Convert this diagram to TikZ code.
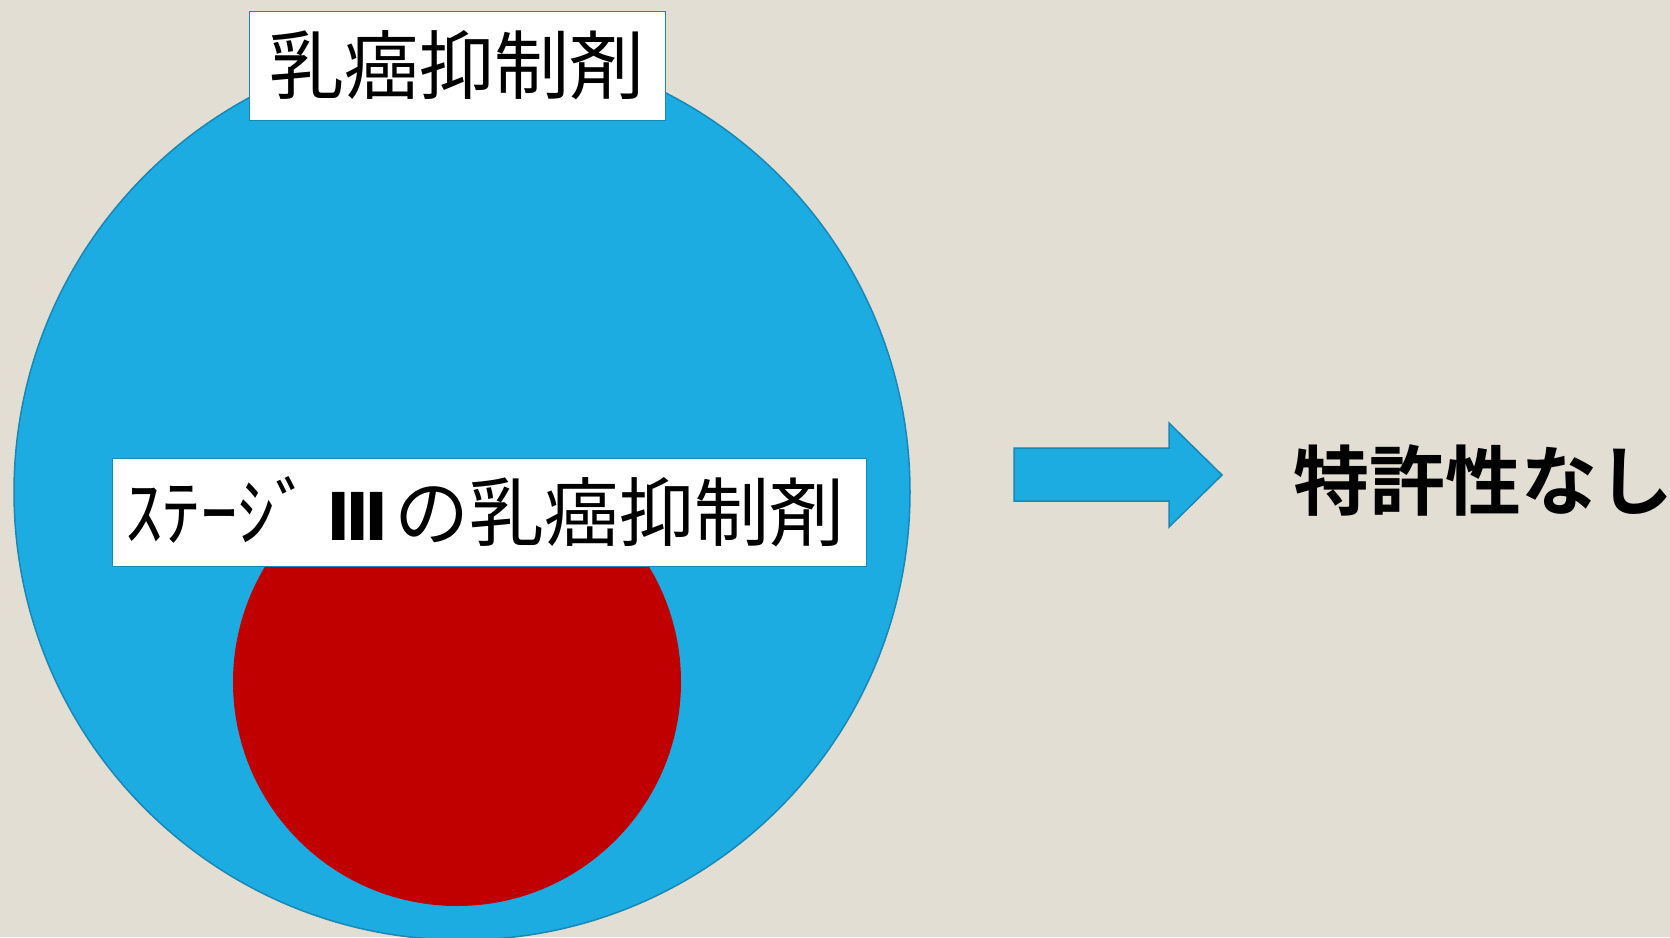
\documentclass[tikz,border=0pt]{standalone}
\usepackage{fontspec}
\newfontfamily\jp{Noto Sans CJK JP}
\newfontfamily\jpbold{Noto Sans CJK JP Bold}
\newfontfamily\numfont{DejaVu Sans}
\definecolor{bg}{RGB}{227,222,211}
\definecolor{skyblue}{RGB}{29,172,226}
\definecolor{edgeblue}{RGB}{26,135,180}
\definecolor{darkred}{RGB}{192,0,0}
\tikzset{
  labelbox/.style={draw=edgeblue, line width=1pt, fill=white, inner sep=0pt, font=\jp\fontsize{75}{80}\selectfont},
  bigdisc/.style={circle, draw=edgeblue, line width=1.5pt, fill=skyblue, inner sep=0pt},
  reddisc/.style={circle, fill=darkred, inner sep=0pt},
  blockarrow/.style={draw=edgeblue, line width=1.5pt, fill=skyblue},
}
\begin{document}
\begin{tikzpicture}[x=1pt,y=-1pt]
\useasboundingbox (0,0) rectangle (1670,937);
\fill[bg] (0,0) rectangle (1670,937);
\node[bigdisc, minimum size=896pt] (outer) at (462,492) {};
\node[reddisc, minimum size=448pt] (inner) at (457,682) {};
\node[labelbox, minimum width=416pt, minimum height=109pt] (top) at (457,65.5) {\raisebox{6pt}{乳癌抑制剤}};
\node[labelbox, minimum width=754pt, minimum height=108pt] (stage) at (489,512) {\hspace*{-8pt}\raisebox{6pt}{ｽﾃｰｼﾞ\hspace{14pt}{\numfont\bfseries\fontsize{66}{70}\selectfont Ⅲ}\hspace{6pt}の乳癌抑制剤}};
\draw[blockarrow] (1014,448) -- (1169,448) -- (1169,423) -- (1222,475) -- (1169,527) -- (1169,501) -- (1014,501) -- cycle;
\node[font=\jpbold\fontsize{76}{80}\selectfont, anchor=west, inner sep=0pt] (result) at (1293,480) {特許性なし};
\end{tikzpicture}
\end{document}
